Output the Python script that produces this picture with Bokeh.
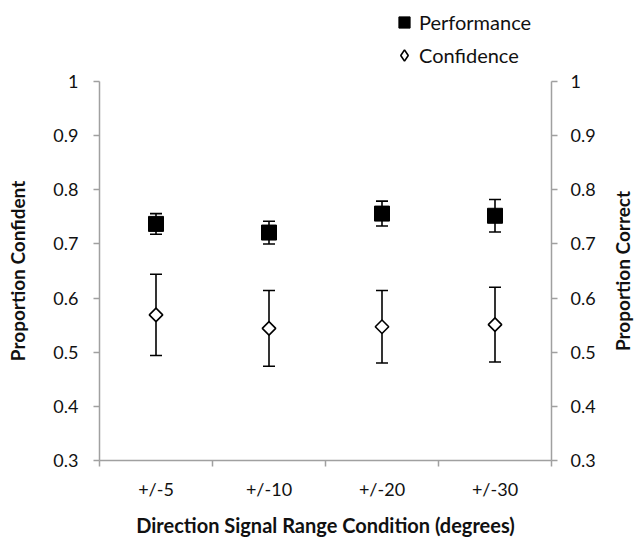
import math
from bokeh.plotting import figure
from bokeh.layouts import column, row
from bokeh.models import (Range1d, LinearAxis, FixedTicker, ColumnDataSource,
                          Whisker, TeeHead, Legend, LegendItem, Title)
from bokeh.embed import file_html
from bokeh.resources import INLINE

# ---- data ----
categories = ["+/-5", "+/-10", "+/-20", "+/-30"]
performance = [0.737, 0.721, 0.756, 0.752]
performance_err = [0.019, 0.021, 0.023, 0.030]
confidence = [0.569, 0.544, 0.547, 0.551]
confidence_err = [0.075, 0.070, 0.067, 0.069]
y_ticks = [0.3, 0.4, 0.5, 0.6, 0.7, 0.8, 0.9, 1.0]
y_tick_labels = ["0.3", "0.4", "0.5", "0.6", "0.7", "0.8", "0.9", "1"]
series_names = ["Performance", "Confidence"]

FONT = "Lato"
TXT = "#111111"
AX = "#a0a0a0"

xs = [i + 0.5 for i in range(len(categories))]

perf_src = ColumnDataSource(dict(
    x=xs, y=performance,
    lo=[v - e for v, e in zip(performance, performance_err)],
    hi=[v + e for v, e in zip(performance, performance_err)]))
conf_src = ColumnDataSource(dict(
    x=xs, y=confidence,
    lo=[v - e for v, e in zip(confidence, confidence_err)],
    hi=[v + e for v, e in zip(confidence, confidence_err)]))

# ---------------- main chart ----------------
p = figure(width=600, height=470, output_backend="svg", toolbar_location=None,
           x_range=Range1d(0, len(categories)), y_range=Range1d(0.3, 1.0),
           min_border_left=99, min_border_right=49, min_border_top=12,
           min_border_bottom=77, outline_line_color=None)
p.grid.visible = False
p.background_fill_color = "white"
p.border_fill_color = "white"

for src in (conf_src, perf_src):
    p.add_layout(Whisker(source=src, base="x", lower="lo", upper="hi",
                         dimension="height", line_color="black", line_width=1.6,
                         lower_head=TeeHead(size=12, line_color="black", line_width=1.6),
                         upper_head=TeeHead(size=12, line_color="black", line_width=1.6)))

p.scatter("x", "y", source=perf_src, marker="square", size=15,
          fill_color="black", line_color="black")
p.scatter("x", "y", source=conf_src, marker="square", size=9.5,
          angle=math.pi / 4, fill_color="white", line_color="black", line_width=1.6)

xax = p.xaxis[0]
xax.ticker = FixedTicker(ticks=xs, minor_ticks=list(range(len(categories) + 1)))
xax.major_label_overrides = {x: c for x, c in zip(xs, categories)}
xax.major_tick_line_color = None
xax.major_tick_out = 6
xax.major_tick_in = 0
xax.minor_tick_line_color = AX
xax.minor_tick_line_width = 1.5
xax.minor_tick_out = 6
xax.minor_tick_in = 0
xax.axis_line_color = AX
xax.axis_line_width = 1.5
xax.major_label_text_font = FONT
xax.major_label_text_font_size = "18px"
xax.major_label_text_color = TXT
xax.major_label_standoff = 11
xax.axis_label = "Direction Signal Range Condition (degrees)"
xax.axis_label_text_font = FONT
xax.axis_label_text_font_size = "20px"
xax.axis_label_text_font_style = "bold"
xax.axis_label_text_color = TXT
xax.axis_label_standoff = 10

yl = p.yaxis[0]
yr = LinearAxis()
p.add_layout(yr, "right")
for ax, lstand in ((yl, 15), (yr, 13)):
    ax.ticker = FixedTicker(ticks=y_ticks, minor_ticks=[])
    ax.major_label_overrides = {t: l for t, l in zip(y_ticks, y_tick_labels)}
    ax.major_tick_out = 6
    ax.major_tick_in = 0
    ax.major_tick_line_color = AX
    ax.major_tick_line_width = 1.5
    ax.minor_tick_line_color = None
    ax.axis_line_color = AX
    ax.axis_line_width = 1.5
    ax.major_label_text_font = FONT
    ax.major_label_text_font_size = "18px"
    ax.major_label_text_color = TXT
    ax.major_label_standoff = lstand
yl.axis_label = "Proportion Confident"
yl.axis_label_text_font = FONT
yl.axis_label_text_font_size = "19px"
yl.axis_label_text_font_style = "bold"
yl.axis_label_text_color = TXT
yl.axis_label_standoff = 21

# ---------------- right title strip (reads bottom-to-top) ----------------
strip = figure(width=36, height=470, output_backend="svg", toolbar_location=None,
               x_axis_location=None, y_axis_location=None,
               min_border_left=33, min_border_right=0, min_border_top=12,
               min_border_bottom=77, outline_line_color=None)
strip.grid.visible = False
strip.add_layout(Title(text="Proportion Correct", align="center", standoff=0,
                       text_font=FONT, text_font_size="19px",
                       text_font_style="bold", text_color=TXT), "left")

# ---------------- legend strip on top ----------------
leg = figure(width=636, height=69, output_backend="svg", toolbar_location=None,
             x_axis_location=None, y_axis_location=None,
             x_range=Range1d(10, 11), y_range=Range1d(0, 1),
             min_border=0, outline_line_color=None)
leg.grid.visible = False
lr_perf = leg.scatter("x", "y", source=perf_src, marker="square",
                      fill_color="black", line_color="black")
lr_conf = leg.scatter("x", "y", source=conf_src, marker="diamond",
                      fill_color="white", line_color="black", line_width=1.6)
legend = Legend(items=[LegendItem(label=series_names[0], renderers=[lr_perf]),
                       LegendItem(label=series_names[1], renderers=[lr_conf])],
                location=(389, 0), orientation="vertical",
                border_line_color=None, background_fill_alpha=0,
                padding=0, margin=0, spacing=5, glyph_width=30, glyph_height=28,
                label_height=28, label_standoff=0,
                label_text_font=FONT, label_text_font_size="20px",
                label_text_color=TXT)
leg.add_layout(legend, "center")

layout = column(leg, row(p, strip, spacing=0), spacing=0)
open("out.html", "w").write(file_html(layout, INLINE))
